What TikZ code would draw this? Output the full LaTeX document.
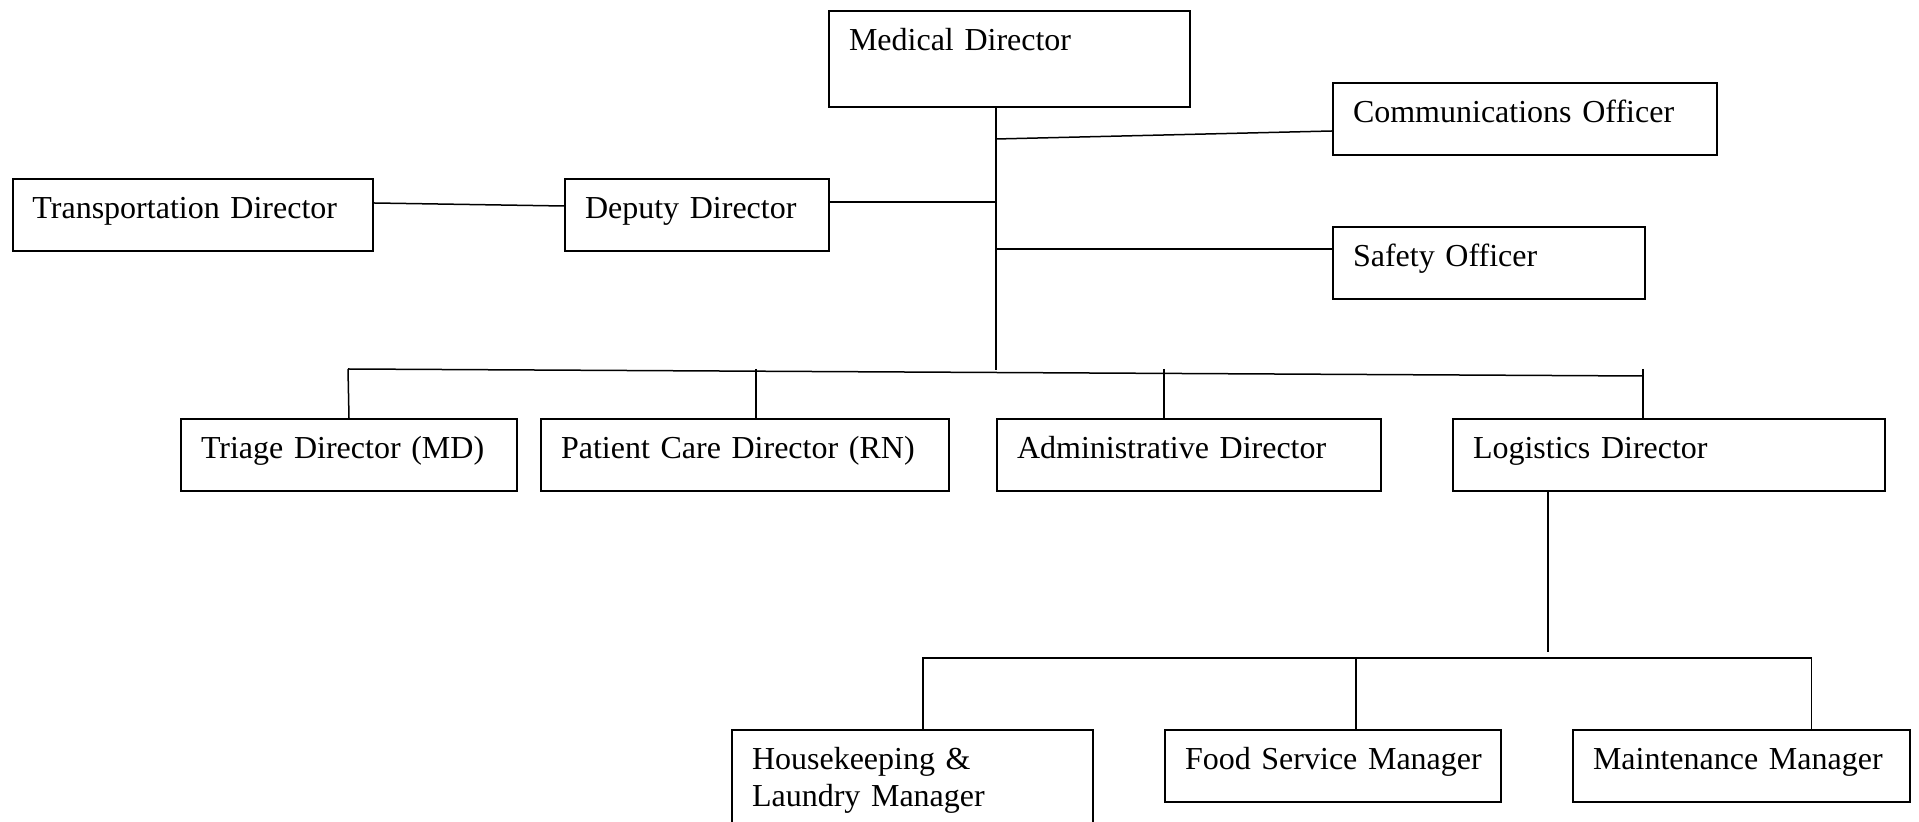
\documentclass[tikz,border=0pt]{standalone}
\usepackage{fontspec}
\setmainfont[WordSpace=0.8]{Liberation Serif}
\begin{document}
\begin{tikzpicture}[x=0.5pt, y=-0.5pt,
    caja/.style={draw, line width=1pt, anchor=north west, align=left,
      inner xsep=10pt, inner ysep=0pt, text height=20pt, text depth=16pt,
      text width=#1, font=\fontsize{16pt}{18.5pt}\selectfont},
    linea/.style={line width=0.75pt}]
    \useasboundingbox (0,0) rectangle (1919,822);

    % Cajas
    \node[caja=160.5pt, text depth=28pt] (med) at (828,10) {Medical Director};
    \node[caja=172pt] (comm) at (1332,82) {Communications Officer};
    \node[caja=136pt] (seg) at (1332,226) {Safety Officer};
    \node[caja=160.25pt] (trans) at (11.5,178) {Transportation Director};
    \node[caja=112pt] (dep) at (564,178) {Deputy Director};
    \node[caja=148pt] (triage) at (180,418) {Triage Director (MD)};
    \node[caja=184pt] (pac) at (540,418) {Patient Care Director (RN)};
    \node[caja=172pt] (adm) at (996,418) {Administrative Director};
    \node[caja=196pt] (log) at (1452,418) {Logistics Director};
    \node[caja=160.25pt, text depth=45pt] (hk) at (731,729) {Housekeeping \&\\Laundry Manager};
    \node[caja=148pt] (food) at (1164,729) {\mbox{Food Service Manager}};
    \node[caja=148.5pt] (mant) at (1572,729) {\mbox{Maintenance Manager}};

    % Tronco
    \coordinate (tronco) at (996,370);
    \coordinate (jcomm) at (996,139);
    \coordinate (jdep) at (996,202);
    \coordinate (jseg) at (996,249);
    \draw[linea] (med.south -| tronco) -- (tronco);
    \draw[linea] (jcomm) -- ([yshift=-6pt]comm.west);
    \draw[linea] (dep.east |- jdep) -- (jdep);
    \draw[linea] (jseg) -- (seg.west |- jseg);
    \draw[linea] ([yshift=6pt]trans.east) -- ([yshift=4.5pt]dep.west);

    % Directores
    \coordinate (b1) at (348,369);
    \coordinate (b2) at (756,369);
    \coordinate (b3) at (1164,369);
    \coordinate (b4) at (1643,376);
    \draw[linea] (b1) -- (b4);
    \draw[linea] (b1) -- (triage.north);
    \draw[linea] (b2) -- (b2 |- pac.north);
    \draw[linea] (b3) -- (b3 |- adm.north);
    \draw[linea] (b4 |- b1) -- (b4 |- log.north);

    % Logistica
    \coordinate (l0) at (1548,652);
    \coordinate (s1) at (923,658);
    \coordinate (s2) at (1356,658);
    \coordinate (s3) at (1811.5,658);
    \draw[linea] (l0 |- log.south) -- (l0);
    \draw[linea] (s1 |- hk.north) -- (s1) -- (s3) -- (s3 |- mant.north);
    \draw[linea] (s2) -- (s2 |- food.north);
\end{tikzpicture}
\end{document}
